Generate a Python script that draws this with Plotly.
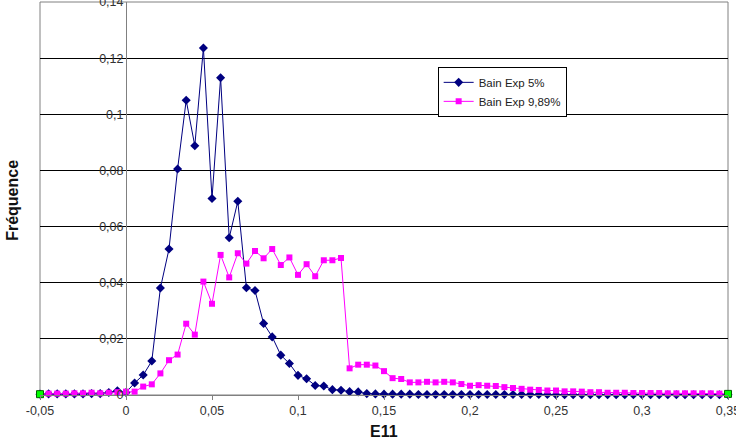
import plotly.graph_objects as go

# E11 values (categories), step 0.005 from -0.05 to 0.35
e11 = [-0.05, -0.045, -0.04, -0.035, -0.03, -0.025, -0.02, -0.015, -0.01, -0.005,
       0.0, 0.005, 0.01, 0.015, 0.02, 0.025, 0.03, 0.035, 0.04, 0.045,
       0.05, 0.055, 0.06, 0.065, 0.07, 0.075, 0.08, 0.085, 0.09, 0.095,
       0.1, 0.105, 0.11, 0.115, 0.12, 0.125, 0.13, 0.135, 0.14, 0.145,
       0.15, 0.155, 0.16, 0.165, 0.17, 0.175, 0.18, 0.185, 0.19, 0.195,
       0.2, 0.205, 0.21, 0.215, 0.22, 0.225, 0.23, 0.235, 0.24, 0.245,
       0.25, 0.255, 0.26, 0.265, 0.27, 0.275, 0.28, 0.285, 0.29, 0.295,
       0.3, 0.305, 0.31, 0.315, 0.32, 0.325, 0.33, 0.335, 0.34, 0.345,
       0.35]

bain_5 = [0.0003, 0.0004, 0.0004, 0.0004, 0.0004, 0.0004, 0.0005, 0.0005, 0.0009, 0.0015,
          0.0009, 0.0043, 0.0071, 0.0121, 0.0381, 0.0520, 0.0805, 0.1050, 0.0888, 0.1236,
          0.0700, 0.1130, 0.0560, 0.0690, 0.0382, 0.0372, 0.0255, 0.0207, 0.0142, 0.0112,
          0.0070, 0.0058, 0.0034, 0.0032, 0.0019, 0.0017, 0.0012, 0.0011, 0.0005, 0.0004,
          0.0003, 0.0003, 0.0003, 0.0003, 0.0002, 0.0002, 0.0002, 0.0002, 0.0002, 0.0002,
          0.0002, 0.0002, 0.0002, 0.0002, 0.0002, 0.0002, 0.0002, 0.0002, 0.0002, 0.0002,
          0.0001, 0.0001, 0.0001, 0.0001, 0.0001, 0.0001, 0.0001, 0.0001, 0.0001, 0.0001,
          0.0001, 0.0001, 0.0001, 0.0001, 0.0001, 0.0001, 0.0001, 0.0001, 0.0001, 0.0001,
          0.0001]

bain_989 = [0.0003, 0.0005, 0.0005, 0.0005, 0.0006, 0.0006, 0.0008, 0.0006, 0.0008, 0.0010,
            0.0012, 0.0012, 0.0030, 0.0038, 0.0077, 0.0124, 0.0144, 0.0254, 0.0215, 0.0404,
            0.0325, 0.0499, 0.0419, 0.0505, 0.0468, 0.0513, 0.0487, 0.0520, 0.0463, 0.0490,
            0.0428, 0.0466, 0.0423, 0.0480, 0.0480, 0.0488, 0.0095, 0.0108, 0.0108, 0.0105,
            0.0085, 0.0060, 0.0057, 0.0045, 0.0045, 0.0047, 0.0045, 0.0047, 0.0045, 0.0039,
            0.0033, 0.0035, 0.0033, 0.0032, 0.0028, 0.0025, 0.0022, 0.0019, 0.0018, 0.0016,
            0.0016, 0.0013, 0.0013, 0.0012, 0.0010, 0.0010, 0.0008, 0.0008, 0.0008, 0.0007,
            0.0007, 0.0007, 0.0007, 0.0006, 0.0006, 0.0006, 0.0006, 0.0006, 0.0006, 0.0005,
            0.0004]

x_tickvals = [-0.05, 0, 0.05, 0.1, 0.15, 0.2, 0.25, 0.3, 0.35]
x_ticktext = ["-0,05", "0", "0,05", "0,1", "0,15", "0,2", "0,25", "0,3", "0,35"]
y_tickvals = [0, 0.02, 0.04, 0.06, 0.08, 0.1, 0.12, 0.14]
y_ticktext = ["0", "0,02", "0,04", "0,06", "0,08", "0,1", "0,12", "0,14"]

FONT = "Liberation Sans, Arial, sans-serif"
EPS = 1e-7

fig = go.Figure()
fig.add_trace(go.Scatter(
    x=e11, y=bain_5, mode="lines+markers", name="Bain Exp 5%",
    line=dict(color="#000080", width=1),
    marker=dict(symbol="diamond", size=7, color="#000080"),
    cliponaxis=False))
fig.add_trace(go.Scatter(
    x=e11, y=bain_989, mode="lines+markers", name="Bain Exp 9,89%",
    line=dict(color="#FF00FF", width=1),
    marker=dict(symbol="square", size=6, color="#FF00FF"),
    cliponaxis=False))
fig.add_trace(go.Scatter(
    x=[e11[0], e11[-1]], y=[bain_989[0], bain_989[-1]], mode="markers",
    showlegend=False,
    marker=dict(symbol="square", size=7, color="#00FF00",
                line=dict(color="#006000", width=1)),
    cliponaxis=False))

fig.update_layout(
    width=736, height=443,
    margin=dict(l=40, r=8, t=2, b=48, autoexpand=False),
    paper_bgcolor="white", plot_bgcolor="white",
    font=dict(family=FONT, size=12, color="#333333"),
    showlegend=True,
    legend=dict(x=0.578, y=0.835, xanchor="left", yanchor="top",
                bgcolor="white", bordercolor="black", borderwidth=1,
                font=dict(size=11.5, color="#222222"), tracegroupgap=0,
                itemwidth=30),
    xaxis=dict(range=[-0.05 - EPS, 0.35 + EPS], tickvals=x_tickvals, ticktext=x_ticktext,
               showgrid=False, zeroline=False, showline=True,
               linecolor="#808080", linewidth=1, automargin=False,
               ticks="outside", ticklen=4, tickcolor="#808080",
               ticklabeloverflow="allow",
               tickfont=dict(size=12.5, color="#333333")),
    yaxis=dict(range=[0, 0.14 + EPS], tickvals=y_tickvals, ticktext=y_ticktext,
               anchor="free", position=0.125, automargin=False,
               showgrid=True, gridcolor="#000000", gridwidth=1,
               zeroline=False, showline=True, linecolor="#808080", linewidth=1,
               ticklabeloverflow="allow",
               ticks="", tickfont=dict(size=12.5, color="#333333")),
    shapes=[dict(type="rect", xref="paper", yref="paper", x0=0, x1=1, y0=0, y1=1,
                 line=dict(color="#808080", width=1), layer="below")],
    annotations=[
        dict(text="<b>E11</b>", xref="paper", yref="paper", x=0.5, y=-0.094,
             showarrow=False, xanchor="center", yanchor="middle",
             font=dict(size=16, color="#111111")),
        dict(text="<b>Fréquence</b>", xref="paper", yref="paper", x=-0.041, y=0.496,
             showarrow=False, xanchor="center", yanchor="middle", textangle=-90,
             font=dict(size=16, color="#111111")),
    ],
)

fig.write_html("out.html", config={"displayModeBar": False},
               post_script="document.body.style.margin='0';document.body.style.overflow='hidden';")
